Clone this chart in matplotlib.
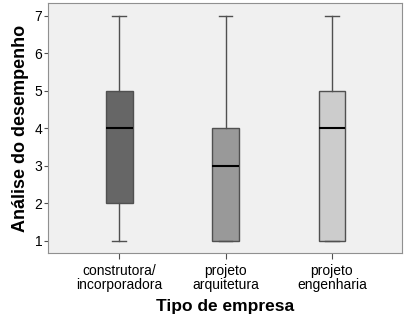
import matplotlib
matplotlib.use("Agg")
import matplotlib.pyplot as plt

plt.rcParams['font.family'] = ['Liberation Sans', 'DejaVu Sans']

categories = ["construtora/\nincorporadora", "projeto\narquitetura", "projeto\nengenharia"]
whislo = [1, 1, 1]
q1 = [2, 1, 1]
med = [4, 3, 4]
q3 = [5, 4, 5]
whishi = [7, 7, 7]
colors = ["#666666", "#999999", "#cccccc"]

stats = []
for i, lab in enumerate(categories):
    stats.append(dict(label=lab, whislo=whislo[i], q1=q1[i], med=med[i],
                      q3=q3[i], whishi=whishi[i], fliers=[]))

fig = plt.figure(figsize=(4.07, 3.25), dpi=100)
ax = fig.add_axes([48 / 407, 1 - 253 / 325, 354 / 407, 250 / 325])
ax.set_facecolor("#f0f0f0")

pos = list(range(len(categories)))
bp = ax.bxp(stats, positions=pos, widths=0.25, patch_artist=True,
            showfliers=False,
            boxprops=dict(edgecolor="#505050", linewidth=1),
            whiskerprops=dict(color="#505050", linewidth=1),
            capprops=dict(color="#505050", linewidth=1),
            medianprops=dict(color="black", linewidth=1.5),
            capwidths=0.13)
for patch, c in zip(bp['boxes'], colors):
    patch.set_facecolor(c)

ax.set_xlim(-0.67, 2.66)
ax.set_ylim(0.68, 7.34)
ax.set_yticks([1, 2, 3, 4, 5, 6, 7])
ax.set_xticks(pos)
ax.set_xticklabels(categories, fontsize=10, linespacing=1.0)
ax.tick_params(axis='y', labelsize=10, length=3, color="#505050", pad=1)
ax.tick_params(axis='x', length=4, color="#505050", pad=4)
for s in ax.spines.values():
    s.set_color("#909090")

ax.set_ylabel("Análise do desempenho", fontsize=13, fontweight='bold', labelpad=4)
ax.set_xlabel("Tipo de empresa", fontsize=12.5, fontweight='bold', labelpad=5)

fig.savefig("out.png", dpi=100)
